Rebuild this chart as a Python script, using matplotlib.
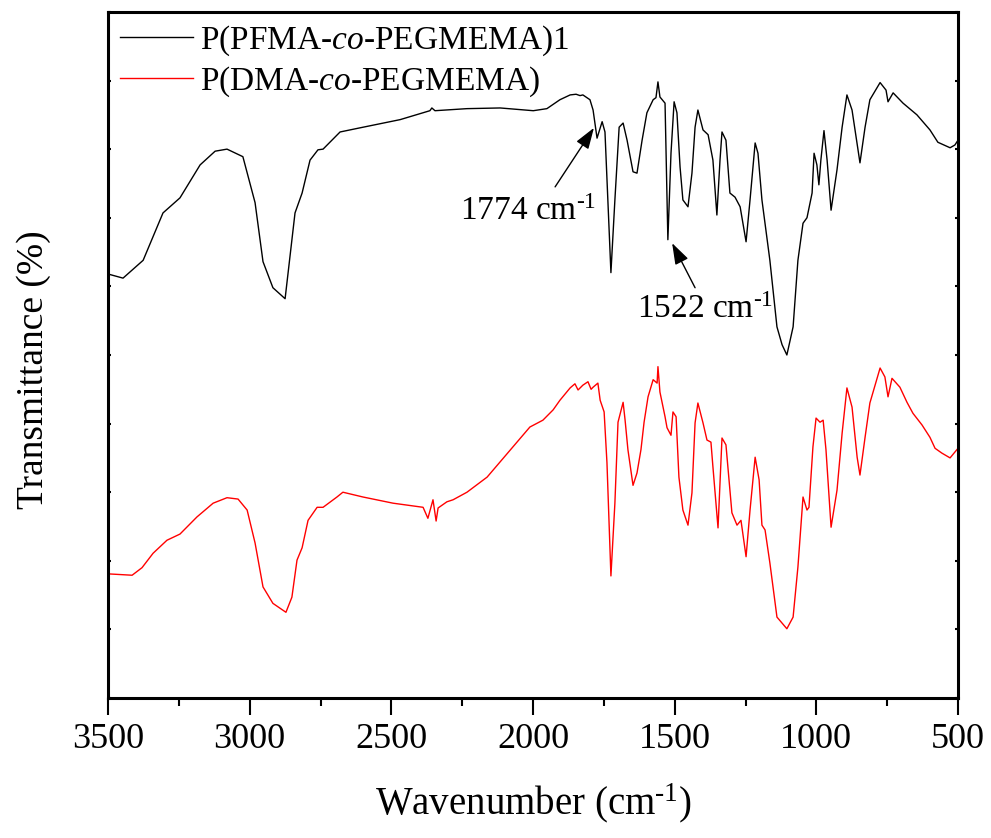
import matplotlib
matplotlib.use("Agg")
import matplotlib.pyplot as plt
from matplotlib.ticker import MultipleLocator, NullFormatter

plt.rcParams['font.family'] = ['Liberation Serif', 'DejaVu Serif']
plt.rcParams['mathtext.fontset'] = 'custom'
plt.rcParams['mathtext.rm'] = 'Liberation Serif'
plt.rcParams['mathtext.it'] = 'Liberation Serif:italic'

# P(PFMA-co-PEGMEMA)1 spectrum (wavenumber, transmittance in arbitrary offset units)
wn_pfma = [3500, 3447, 3376, 3306, 3246, 3175, 3122, 3080, 3024, 2981, 2953, 2918, 2875,
           2840, 2815, 2787, 2759, 2741, 2681, 2611, 2469, 2364, 2357, 2346, 2233, 2116,
           1999, 1951, 1905, 1869, 1848, 1834, 1824, 1799, 1788, 1774, 1756, 1746, 1725,
           1711, 1696, 1682, 1668, 1647, 1633, 1615, 1598, 1576, 1566, 1559, 1552, 1534,
           1524, 1513, 1502, 1492, 1481, 1471, 1453, 1439, 1428, 1418, 1400, 1382, 1365,
           1351, 1340, 1333, 1319, 1305, 1287, 1269, 1248, 1234, 1216, 1206, 1192, 1164,
           1139, 1121, 1104, 1082, 1065, 1047, 1033, 1015, 1008, 998, 991, 984, 973, 962,
           948, 927, 909, 892, 874, 846, 828, 811, 775, 754, 747, 729, 694, 645, 599, 571,
           528, 511, 500]
t_pfma = [61.8, 61.2, 63.8, 70.7, 72.9, 77.7, 79.7, 80.0, 78.9, 72.2, 63.6, 59.8, 58.2,
          70.7, 73.6, 78.4, 79.9, 80.0, 82.5, 83.1, 84.3, 85.6, 86.0, 85.6, 85.9, 86.0,
          85.6, 85.9, 87.2, 87.9, 88.0, 87.8, 87.9, 87.2, 85.7, 81.6, 84.0, 82.5, 62.0,
          72.6, 83.2, 83.8, 81.3, 76.7, 76.5, 81.3, 85.3, 87.2, 87.5, 89.8, 87.6, 86.7,
          66.8, 79.4, 86.9, 85.3, 77.4, 72.6, 71.6, 76.5, 83.2, 85.7, 82.8, 82.1, 78.4,
          70.4, 78.4, 82.5, 81.3, 73.6, 73.0, 71.6, 66.5, 72.6, 80.9, 79.4, 72.6, 63.8,
          54.1, 51.5, 50.0, 54.1, 63.8, 69.2, 70.0, 73.6, 79.4, 77.7, 74.8, 78.4, 82.7, 78.4,
          71.1, 77.0, 83.2, 87.9, 85.7, 78.0, 83.2, 87.2, 89.7, 88.6, 86.9, 88.2, 86.7, 85.0,
          82.8, 81.0, 80.2, 80.6, 81.3]

# P(DMA-co-PEGMEMA) spectrum
wn_dma = [3500, 3415, 3380, 3341, 3292, 3246, 3186, 3129, 3080, 3041, 3009, 2981, 2953,
          2918, 2872, 2851, 2833, 2815, 2794, 2762, 2741, 2692, 2671, 2600, 2494, 2388,
          2371, 2353, 2342, 2335, 2304, 2282, 2233, 2162, 2071, 2011, 1965, 1929, 1905,
          1869, 1852, 1841, 1824, 1806, 1795, 1788, 1771, 1763, 1749, 1739, 1725, 1711,
          1700, 1682, 1675, 1665, 1647, 1633, 1619, 1608, 1594, 1576, 1562, 1559, 1552,
          1534, 1527, 1513, 1506, 1495, 1485, 1471, 1453, 1439, 1428, 1418, 1400, 1386,
          1372, 1365, 1347, 1333, 1319, 1298, 1280, 1266, 1248, 1234, 1216, 1202, 1192,
          1181, 1164, 1139, 1104, 1082, 1065, 1047, 1033, 1026, 1012, 1001, 987, 976, 966,
          948, 927, 909, 892, 874, 856, 846, 828, 811, 775, 758, 747, 733, 705, 680, 659,
          627, 599, 581, 557, 528, 504, 500]
t_dma = [18.1, 17.9, 19.0, 21.1, 23.0, 23.9, 26.4, 28.4, 29.2, 29.0, 27.4, 22.6, 16.2,
         13.8, 12.5, 14.7, 20.1, 21.9, 25.9, 27.8, 27.8, 29.3, 30.0, 29.3, 28.4, 27.8,
         26.2, 28.9, 25.8, 27.7, 28.6, 28.9, 30.0, 32.2, 36.6, 39.5, 40.5, 42.0, 43.4,
         45.2, 45.8, 44.9, 45.6, 46.1, 45.0, 45.3, 45.9, 43.4, 41.7, 34.3, 17.8, 28.4,
         40.2, 43.1, 40.5, 36.2, 31.0, 32.8, 36.2, 40.2, 43.9, 46.4, 45.9, 48.3, 44.6,
         41.0, 39.4, 38.3, 41.7, 41.0, 32.2, 27.4, 25.2, 29.9, 40.1, 43.0, 40.1, 37.6,
         37.3, 33.7, 24.8, 37.9, 36.9, 27.0, 25.2, 25.9, 20.6, 27.4, 35.1, 31.8, 25.2,
         24.5, 19.7, 11.8, 10.1, 11.8, 19.1, 29.3, 27.4, 27.8, 36.6, 40.8, 40.2, 40.5, 36.2,
         24.9, 30.3, 38.6, 45.2, 42.4, 35.1, 32.5, 38.0, 43.0, 48.1, 46.8, 43.9, 46.6,
         45.3, 43.1, 41.5, 39.8, 38.0, 36.4, 35.7, 35.0, 36.2, 36.4]

labels = ['P(PFMA-$\\it{co}$-PEGMEMA)1', 'P(DMA-$\\it{co}$-PEGMEMA)']

fig = plt.figure(figsize=(9.91, 8.38), dpi=100)
ax = fig.add_axes([0.109, 0.167, 0.8577, 0.8188])

ax.plot(wn_pfma, t_pfma, color='black', lw=1.0, label=labels[0])
ax.plot(wn_dma, t_dma, color='red', lw=1.0, label=labels[1])

ax.set_xlim(3500, 500)
ax.set_ylim(0, 100)

ax.xaxis.set_major_locator(MultipleLocator(500))
ax.xaxis.set_minor_locator(MultipleLocator(250))
ax.yaxis.set_major_locator(MultipleLocator(10))
ax.yaxis.set_major_formatter(NullFormatter())
ax.tick_params(axis='x', which='major', direction='out', length=12, width=1.5,
               labelsize=26, pad=6, top=False)
ax.tick_params(axis='x', which='minor', direction='out', length=6, width=1.5, top=False)
ax.tick_params(axis='y', which='major', direction='in', length=2.5, width=1.5,
               left=True, right=True)
for s in ax.spines.values():
    s.set_linewidth(2.2)

ax.set_xlabel('Wavenumber (cm$^{\\text{-1}}$)', fontsize=28, labelpad=18)
ax.set_ylabel('Transmittance (%)', fontsize=27)
ax.yaxis.set_label_coords(-0.067, 0.478)

# peak annotations
arrow = dict(arrowstyle='-|>,head_length=0.65,head_width=0.22', color='black', lw=1.0,
             mutation_scale=20, shrinkA=0, shrinkB=0)
ax.annotate('', xy=(1785, 83.1), xytext=(1922, 74.5), arrowprops=arrow)
ax.text(2258, 69.7, '1774 cm$^{\\text{-1}}$', fontsize=24, ha='left', va='baseline')
ax.annotate('', xy=(1509, 66.3), xytext=(1428, 59.8), arrowprops=arrow)
ax.text(1633, 55.4, '1522 cm$^{\\text{-1}}$', fontsize=24, ha='left', va='baseline')

ax.legend(loc='upper left', bbox_to_anchor=(0.0, 1.0), frameon=False, fontsize=24,
          handlelength=2.2, handletextpad=0.2, labelspacing=0.2, borderaxespad=0.1,
          borderpad=0.25)

fig.savefig('out.png', dpi=100)
